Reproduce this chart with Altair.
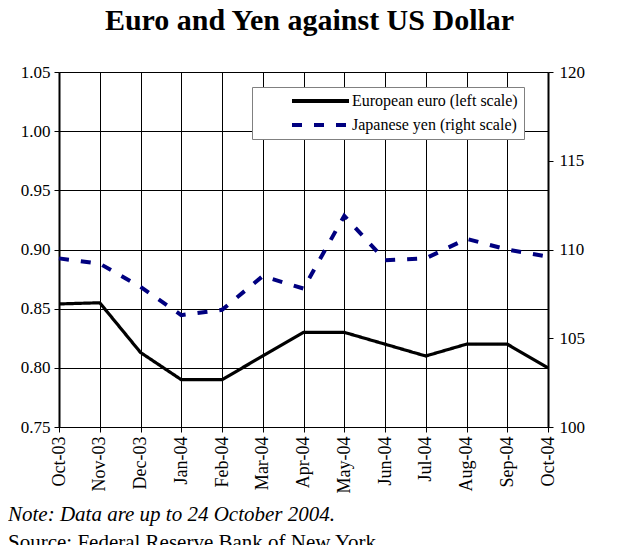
import altair as alt
import pandas as pd

months = ["Oct-03", "Nov-03", "Dec-03", "Jan-04", "Feb-04", "Mar-04", "Apr-04",
          "May-04", "Jun-04", "Jul-04", "Aug-04", "Sep-04", "Oct-04"]
euro = [0.854, 0.855, 0.813, 0.790, 0.790, 0.810, 0.830, 0.830, 0.820, 0.810, 0.820, 0.820, 0.800]
yen = [109.5, 109.2, 107.9, 106.3, 106.6, 108.5, 107.8, 111.9, 109.4, 109.5, 110.6, 110.0, 109.6]

euro_lbl = "European euro (left scale)"
yen_lbl = "Japanese yen (right scale)"

df = pd.DataFrame({
    "month": months * 2,
    "value": euro + yen,
    "series": [euro_lbl] * len(months) + [yen_lbl] * len(months),
})

FONT = "Liberation Serif, Times New Roman, serif"

def make_legend():
    return alt.Legend(title=None, orient="none", legendX=193, legendY=15,
                      symbolType="stroke", symbolSize=3249, symbolStrokeWidth=4,
                      labelFont=FONT, labelFontSize=16, labelColor="black", labelLimit=400,
                      fillColor="white", strokeColor="#808080", padding=6,
                      rowPadding=8, clipHeight=16, labelOffset=1, symbolOffset=32)

color = alt.Color("series:N",
                  scale=alt.Scale(domain=[euro_lbl, yen_lbl], range=["#000000", "#000080"]),
                  legend=make_legend())
dash = alt.StrokeDash("series:N",
                      scale=alt.Scale(domain=[euro_lbl, yen_lbl], range=[[1, 0], [10, 12]]),
                      legend=make_legend())

xenc = alt.X("month:N", sort=months, scale=alt.Scale(type="point", padding=0),
             axis=alt.Axis(title=None, labelAngle=-90, labelFont=FONT, labelFontSize=18,
                           labelColor="black", grid=True, gridColor="black", gridWidth=1,
                           domainColor="black", tickColor="black", tickSize=5, labelPadding=4))

euro_line = alt.Chart(df).transform_filter(alt.datum.series == euro_lbl).mark_line(strokeWidth=3.2).encode(
    x=xenc,
    y=alt.Y("value:Q", scale=alt.Scale(domain=[0.75, 1.05], nice=False, zero=False),
            axis=alt.Axis(title=None, orient="left", values=[0.75, 0.8, 0.85, 0.9, 0.95, 1.0, 1.05],
                          format=".2f", labelFont=FONT, labelFontSize=17, labelColor="black",
                          grid=True, gridColor="black", gridWidth=1, domainColor="black",
                          domainWidth=2, tickColor="black", tickSize=5, labelPadding=4)),
    color=color, strokeDash=dash,
)

yen_line = alt.Chart(df).transform_filter(alt.datum.series == yen_lbl).mark_line(strokeWidth=4).encode(
    x=xenc,
    y=alt.Y("value:Q", scale=alt.Scale(domain=[100, 120], nice=False, zero=False),
            axis=alt.Axis(title=None, orient="right", values=[100, 105, 110, 115, 120],
                          format="d", labelFont=FONT, labelFontSize=17, labelColor="black",
                          grid=False, domainColor="black", domainWidth=2, tickColor="black",
                          tickSize=5, labelPadding=6)),
    color=color, strokeDash=dash,
)

notes = pd.DataFrame({"t": ["Note: Data are up to 24 October 2004."]})
src = pd.DataFrame({"t": ["Source: Federal Reserve Bank of New York"]})
note_text = alt.Chart(notes).mark_text(align="left", baseline="alphabetic", font=FONT,
                                       fontSize=21, fontStyle="italic", color="black").encode(
    text="t:N", x=alt.value(-51), y=alt.value(449))
src_text = alt.Chart(src).mark_text(align="left", baseline="alphabetic", font=FONT,
                                    fontSize=21, color="black").encode(
    text="t:N", x=alt.value(-51), y=alt.value(477))

chart = alt.layer(euro_line, yen_line, note_text, src_text).resolve_scale(
    y="independent"
).properties(
    width=489, height=355,
    title=alt.TitleParams("Euro and Yen against US Dollar", font=FONT, fontSize=30,
                          fontWeight="bold", color="black", anchor="middle", offset=27, dx=6),
    padding={"left": 51, "top": 64, "right": 64, "bottom": 130},
    autosize=alt.AutoSizeParams(type="none"),
).configure(font=FONT).configure_view(stroke=None)

chart.save("out.html", embed_options={"renderer": "svg", "actions": False})
